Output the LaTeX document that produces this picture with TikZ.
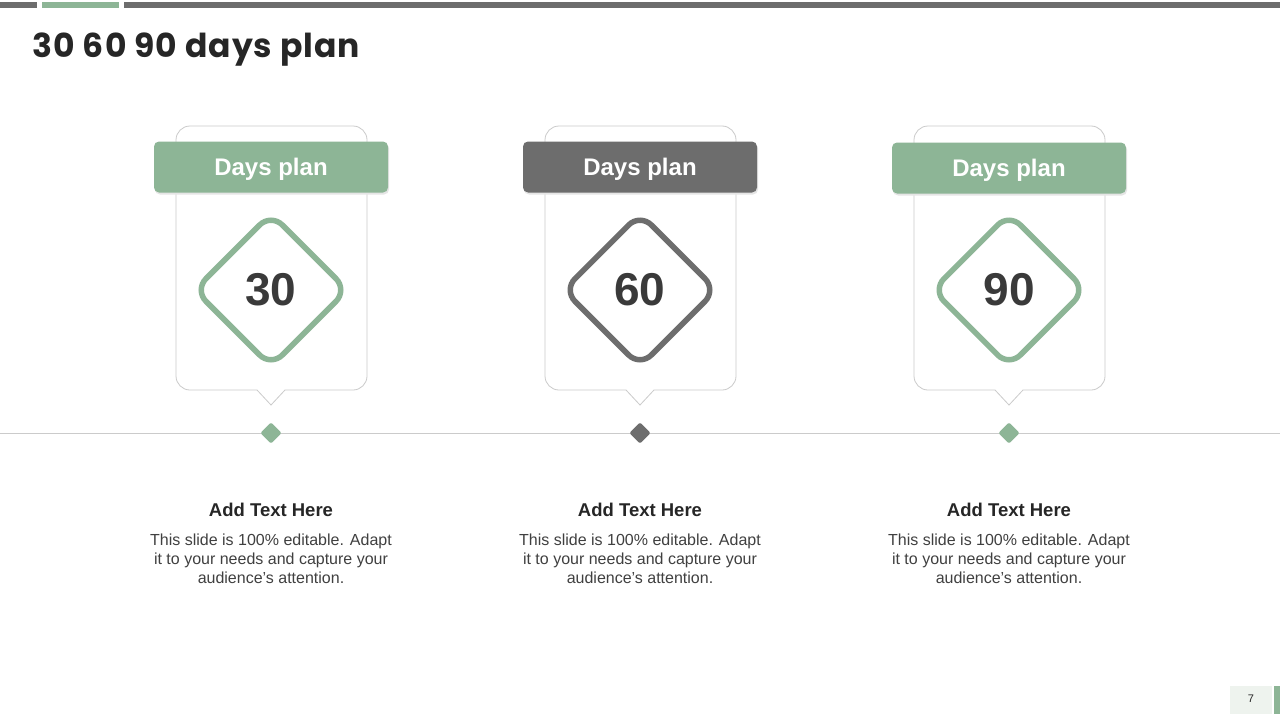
\documentclass[tikz,border=0pt]{standalone}
\usepackage{fontspec}
\setmainfont{Liberation Sans}
\newfontfamily\titlefont{Poppins}[LetterSpace=3]
\usetikzlibrary{positioning}
\definecolor{sage}{HTML}{8DB596}
\definecolor{slate}{HTML}{6D6D6D}
\definecolor{rimgray}{HTML}{CBCBCB}
\definecolor{inkgray}{HTML}{3A3A3A}
\definecolor{pagetint}{HTML}{EEF3EE}

\begin{document}
\begin{tikzpicture}[x=1pt, y=-1pt,
    cardline/.style={draw=rimgray, line width=0.8pt, fill=white},
    headbar/.style={rounded corners=5pt, minimum width=234pt, minimum height=51pt, inner sep=0pt,
      text depth=0pt, text=white, font=\bfseries\fontsize{24}{28}\selectfont},
    headshade/.style={fill=black!10, rounded corners=5pt, minimum width=234pt, minimum height=51pt},
    ringbox/.style={draw, line width=5.5pt, rotate=45, minimum size=108pt, rounded corners=16pt, fill=white},
    daynum/.style={text=inkgray, font=\bfseries\fontsize{46}{50}\selectfont},
    tickmark/.style={rotate=45, minimum size=15pt, inner sep=0pt, rounded corners=2pt},
    headtext/.style={text=black!85, font=\bfseries\fontsize{18.5}{22}\selectfont},
    bodytext/.style={text=black!75, align=center, font=\fontsize{16}{19}\selectfont}
  ]
    % Frame
    \fill[white] (0,0) rectangle (1280,720);
    \useasboundingbox (0,0) rectangle (1280,720);

    % Top bars
    \fill[slate] (0,2) rectangle (37,8);
    \fill[sage] (42,2) rectangle (119,8);
    \fill[slate] (124,2) rectangle (1280,8);

    % Title
    \node[anchor=west, text=black!85, font=\titlefont\bfseries\fontsize{33}{38}\selectfont] (title) at (29,50) {30 60 90 days plan};

    % Timeline
    \coordinate (tl-start) at (0,433);
    \coordinate (tl-end) at (1280,433);
    \draw[rimgray, line width=1pt] (tl-start) -- (tl-end);

    % Card 30
    \draw[cardline] (176,250) [rounded corners=14pt] -- (176,126) -- (367,126) -- (367,390)
      [sharp corners] -- (285,390) -- (271,405) -- (257,390) [rounded corners=14pt] -- (176,390) -- cycle;
    \node[headshade] at (272,169) {};
    \node[headbar, fill=sage] (head30) at (271,167) {Days plan};
    \node[ringbox, draw=sage] (ring30) at (271,290) {};
    \node[daynum] (num30) at (ring30.center) {30};
    \node[tickmark, fill=sage] (tick30) at (271,433) {};
    \node[headtext] (add30) at (271,510) {Add Text Here};
    \node[bodytext, below=10pt of add30] (body30) {This slide is 100\% editable. Adapt\\it to your needs and capture your\\audience's attention.};

    % Card 60
    \draw[cardline] (545,250) [rounded corners=14pt] -- (545,126) -- (736,126) -- (736,390)
      [sharp corners] -- (654,390) -- (640,405) -- (626,390) [rounded corners=14pt] -- (545,390) -- cycle;
    \node[headshade] at (641,169) {};
    \node[headbar, fill=slate] (head60) at (640,167) {Days plan};
    \node[ringbox, draw=slate] (ring60) at (640,290) {};
    \node[daynum] (num60) at (ring60.center) {60};
    \node[tickmark, fill=slate] (tick60) at (640,433) {};
    \node[headtext] (add60) at (640,510) {Add Text Here};
    \node[bodytext, below=10pt of add60] (body60) {This slide is 100\% editable. Adapt\\it to your needs and capture your\\audience's attention.};

    % Card 90
    \draw[cardline] (914,250) [rounded corners=14pt] -- (914,126) -- (1105,126) -- (1105,390)
      [sharp corners] -- (1023,390) -- (1009,405) -- (995,390) [rounded corners=14pt] -- (914,390) -- cycle;
    \node[headshade] at (1010,170) {};
    \node[headbar, fill=sage] (head90) at (1009,168) {Days plan};
    \node[ringbox, draw=sage] (ring90) at (1009,290) {};
    \node[daynum] (num90) at (ring90.center) {90};
    \node[tickmark, fill=sage] (tick90) at (1009,433) {};
    \node[headtext] (add90) at (1009,510) {Add Text Here};
    \node[bodytext, below=10pt of add90] (body90) {This slide is 100\% editable. Adapt\\it to your needs and capture your\\audience's attention.};

    % Page number
    \fill[pagetint] (1230,686) rectangle (1272,714);
    \fill[sage] (1274,686) rectangle (1280,714);
    \node[font=\fontsize{11}{13}\selectfont, text=black!85] (pagenum) at (1251,699) {7};
\end{tikzpicture}
\end{document}
